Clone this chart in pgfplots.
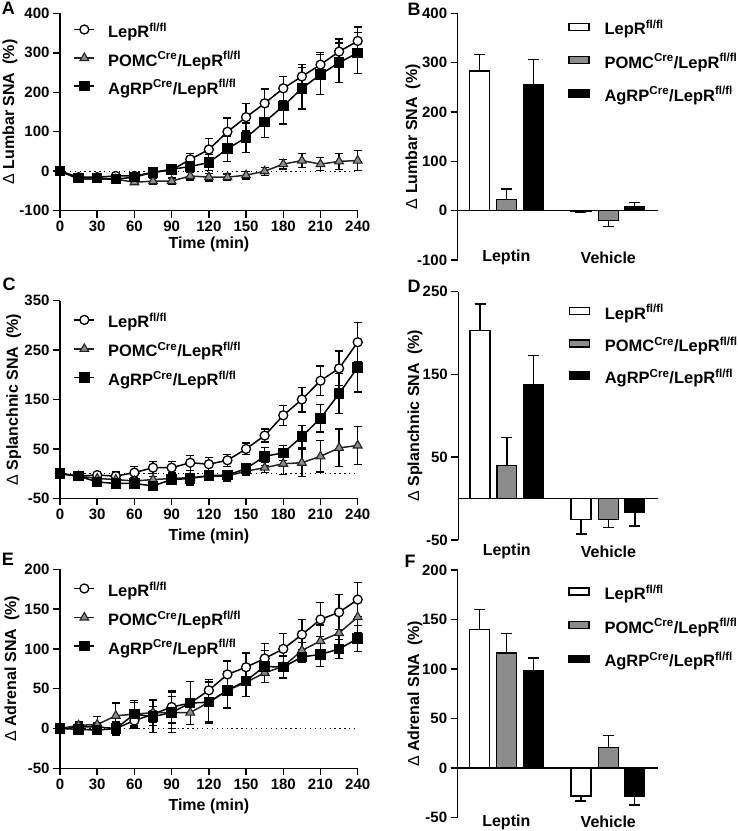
\documentclass[border=0pt]{standalone}
\usepackage{pgfplots}
\pgfplotsset{compat=1.18}
\usepackage{fontspec}
\setmainfont{Liberation Sans}
\definecolor{pomcgray}{RGB}{140,140,140}
\definecolor{pomcedge}{RGB}{35,35,35}
\newcommand{\fl}{\textsuperscript{fl/fl}}
\newcommand{\cre}{\textsuperscript{Cre}}
\newcommand{\dlt}{{\mdseries Δ}}
\tikzset{catlabel/.style={font=\fontsize{16}{18}\selectfont\bfseries, anchor=center}}
\pgfplotsset{
 base/.style={scale only axis,
   axis line style={line width=1.5pt,-},
   tick align=outside, major tick length=7pt,
   every tick/.style={black,line width=1.5pt},
   tick label style={font=\fontsize{15}{17}\selectfont\bfseries},
   /pgf/number format/assume math mode=true,
   clip=false,
   ylabel style={font=\fontsize{16}{18}\selectfont\bfseries, anchor=center},
   xlabel style={font=\fontsize{16}{18}\selectfont\bfseries, anchor=center},
   axis y line*=left,
   legend cell align=left},
 linepanel/.style={base, width=297.7pt, xmin=0, xmax=240, xtick={0,30,...,240},
   axis x line*=bottom, xlabel={Time (min)},
   legend style={draw=none, fill=none, anchor=north west,
     at={(axis description cs:0.045,1)}, yshift=-11.5pt,
     font=\fontsize{16.5}{18}\selectfont\bfseries, inner sep=0pt,
     column sep=13pt, row sep=11.5pt,
     nodes={inner sep=0pt, text height=12pt, text depth=4pt}},
   legend image code/.code={\draw[mark repeat=2,mark phase=2,##1] plot coordinates {(0pt,4pt)(10pt,4pt)(20pt,4pt)};}},
 barpanel/.style={base, width=200pt, xmin=0, xmax=200,
   axis x line*=middle, xtick=\empty,
   legend style={draw=none, fill=none, anchor=north west,
     at={(axis description cs:0.552,1)}, yshift=-9pt,
     font=\fontsize{16.5}{18}\selectfont\bfseries, inner sep=0pt,
     column sep=14.7pt, row sep=17pt,
     nodes={inner sep=0pt, text height=12pt, text depth=4pt}},
   legend image code/.code={\draw[##1] (0pt,0.5pt) rectangle (20pt,7.5pt);}},
 lerr/.style={error bars/.cd, y dir=both, y explicit,
   error bar style={line width=1.3pt, black},
   error mark options={rotate=90, line width=1.3pt, mark size=4pt, black}},
 berr/.style={error bars/.cd, y dir=both, y explicit,
   error bar style={line width=1.5pt, black},
   error mark options={rotate=90, line width=1.5pt, mark size=5.5pt, black}},
 lepr/.style={black, line width=1.5pt, mark=*, mark size=4.5pt,
   mark options={fill=white, draw=black, line width=1.3pt}, lerr},
 pomc/.style={pomcedge, line width=1.5pt, mark=triangle*, mark size=5pt,
   mark options={fill=pomcgray, draw=pomcedge, line width=1.1pt}, lerr},
 agrp/.style={black, line width=1.5pt, mark=square*, mark size=4.5pt,
   mark options={fill=black, draw=black}, lerr},
 zeroline/.style={black, line width=1.3pt, dash pattern=on 1.3pt off 3.6pt, forget plot},
 bwhite/.style={ybar, bar width=20, bar shift=0pt, draw=black, fill=white, line width=1.5pt, berr},
 bgray/.style={ybar, bar width=20, bar shift=0pt, draw=black, fill=pomcgray, line width=1.5pt, berr},
 bblack/.style={ybar, bar width=20, bar shift=0pt, draw=black, fill=black, line width=1.5pt, berr},
}
\begin{document}
\bfseries
\begin{tikzpicture}
\path[use as bounding box] (0pt,0pt) rectangle (738pt,-831pt);

% ---------------- A ----------------
\begin{axis}[linepanel, at={(60pt,-210.7pt)}, anchor=south west, height=197.4pt,
  ymin=-100, ymax=400, ytick={-100,0,...,400},
  ylabel={\dlt\ Lumbar SNA\enspace(\%)},
  ylabel style={at={(axis description cs:-0.168,0.5)}},
  xlabel style={at={(axis description cs:0.5,0)}, yshift=-34pt}]
\addplot[zeroline] coordinates {(0,0) (240,0)};
\addplot[lepr] coordinates {
(0,0) +- (0,0) (15,-15) +- (0,5) (30,-15) +- (0,6) (45,-12) +- (0,7) (60,-12) +- (0,8)
(75,-3) +- (0,10) (90,3) +- (0,12) (105,30) +- (0,15) (120,55) +- (0,28) (135,100) +- (0,35)
(150,137) +- (0,35) (165,172) +- (0,36) (180,210) +- (0,30) (195,240) +- (0,30)
(210,270) +- (0,30) (225,303) +- (0,32) (240,330) +- (0,35)};
\addlegendentry{LepR\fl}
\addplot[pomc] coordinates {
(0,0) +- (0,0) (15,-20) +- (0,5) (30,-20) +- (0,5) (45,-20) +- (0,6) (60,-28) +- (0,6)
(75,-25) +- (0,7) (90,-25) +- (0,8) (105,-12) +- (0,10) (120,-15) +- (0,10) (135,-15) +- (0,8)
(150,-10) +- (0,10) (165,0) +- (0,10) (180,18) +- (0,12) (195,27) +- (0,18)
(210,18) +- (0,17) (225,25) +- (0,20) (240,27) +- (0,25)};
\addlegendentry{POMC\cre/LepR\fl}
\addplot[agrp] coordinates {
(0,0) +- (0,0) (15,-17) +- (0,6) (30,-17) +- (0,6) (45,-20) +- (0,7) (60,-15) +- (0,8)
(75,-3) +- (0,10) (90,5) +- (0,12) (105,12) +- (0,15) (120,22) +- (0,20) (135,57) +- (0,32)
(150,85) +- (0,37) (165,125) +- (0,40) (180,165) +- (0,45) (195,210) +- (0,52)
(210,245) +- (0,50) (225,275) +- (0,50) (240,300) +- (0,52)};
\addlegendentry{AgRP\cre/LepR\fl}
\end{axis}

% ---------------- B ----------------
\begin{axis}[barpanel, at={(457.7pt,-260pt)}, anchor=south west, height=246.7pt,
  ymin=-100, ymax=400, ytick={-100,0,...,400},
  ylabel={\dlt\ Lumbar SNA\enspace(\%)},
  ylabel style={at={(axis description cs:-0.224,0.5)}}]
\addplot[bwhite] coordinates {(21.8,283) += (0,34) -= (0,0.01) (123.1,-2) += (0,0.01) -= (0,1)};
\addlegendentry{LepR\fl}
\addplot[bgray] coordinates {(48.6,23) += (0,21) -= (0,0.01) (150.6,-20) += (0,0.01) -= (0,12)};
\addlegendentry{POMC\cre/LepR\fl}
\addplot[bblack] coordinates {(75.6,256) += (0,50) -= (0,0.01) (177,7) += (0,10) -= (0,0.01)};
\addlegendentry{AgRP\cre/LepR\fl}
\node[catlabel] at (axis cs:48.6,0) [yshift=-47pt] {Leptin};
\node[catlabel] at (axis cs:150.6,0) [yshift=-47pt] {Vehicle};
\end{axis}

% ---------------- C ----------------
\begin{axis}[linepanel, at={(60pt,-498.3pt)}, anchor=south west, height=197.6pt,
  ymin=-50, ymax=350, ytick={-50,50,...,350},
  ylabel={\dlt\ Splanchnic SNA\enspace(\%)},
  ylabel style={at={(axis description cs:-0.155,0.5)}},
  xlabel style={at={(axis description cs:0.5,0)}, yshift=-38pt},
  legend style={yshift=-3pt, row sep=12pt}]
\addplot[zeroline] coordinates {(0,0) (240,0)};
\addplot[lepr] coordinates {
(0,0) +- (0,0) (15,-5) +- (0,3) (30,-3) +- (0,5) (45,-5) +- (0,8) (60,2) +- (0,12)
(75,12) +- (0,12) (90,12) +- (0,13) (105,22) +- (0,15) (120,19) +- (0,13) (135,27) +- (0,12)
(150,50) +- (0,12) (165,77) +- (0,13) (180,118) +- (0,20) (195,150) +- (0,25)
(210,188) +- (0,30) (225,213) +- (0,35) (240,266) +- (0,40)};
\addlegendentry{LepR\fl}
\addplot[pomc] coordinates {
(0,0) +- (0,0) (15,-5) +- (0,3) (30,-10) +- (0,5) (45,-12) +- (0,5) (60,-15) +- (0,6)
(75,-12) +- (0,6) (90,-10) +- (0,12) (105,-8) +- (0,15) (120,-5) +- (0,8) (135,-5) +- (0,10)
(150,5) +- (0,8) (165,12) +- (0,10) (180,20) +- (0,22) (195,22) +- (0,28)
(210,35) +- (0,32) (225,52) +- (0,38) (240,57) +- (0,38)};
\addlegendentry{POMC\cre/LepR\fl}
\addplot[agrp] coordinates {
(0,0) +- (0,0) (15,-5) +- (0,3) (30,-17) +- (0,5) (45,-20) +- (0,7) (60,-20) +- (0,7)
(75,-25) +- (0,6) (90,-12) +- (0,10) (105,-10) +- (0,10) (120,-4) +- (0,8) (135,-3) +- (0,8)
(150,10) +- (0,10) (165,35) +- (0,18) (180,42) +- (0,15) (195,75) +- (0,23)
(210,112) +- (0,28) (225,162) +- (0,40) (240,215) +- (0,50)};
\addlegendentry{AgRP\cre/LepR\fl}
\end{axis}

% ---------------- D ----------------
\begin{axis}[barpanel, at={(458.3pt,-540pt)}, anchor=south west, height=248.3pt, width=199.4pt,
  ymin=-50, ymax=250, ytick={-50,50,150,250},
  ylabel={\dlt\ Splanchnic SNA\enspace(\%)},
  ylabel style={at={(axis description cs:-0.217,0.5)}},
  legend style={yshift=-6pt, row sep=16pt}]
\addplot[bwhite] coordinates {(21.8,203) += (0,32) -= (0,0.01) (123.1,-25) += (0,0.01) -= (0,18)};
\addlegendentry{LepR\fl}
\addplot[bgray] coordinates {(48.6,40) += (0,34) -= (0,0.01) (150.6,-25) += (0,0.01) -= (0,10)};
\addlegendentry{POMC\cre/LepR\fl}
\addplot[bblack] coordinates {(75.6,138) += (0,35) -= (0,0.01) (177,-16) += (0,0.01) -= (0,17)};
\addlegendentry{AgRP\cre/LepR\fl}
\node[catlabel] at (axis cs:48.6,0) [yshift=-53pt] {Leptin};
\node[catlabel] at (axis cs:150.6,0) [yshift=-53pt] {Vehicle};
\end{axis}

% ---------------- E ----------------
\begin{axis}[linepanel, at={(60pt,-768.3pt)}, anchor=south west, height=199pt,
  ymin=-50, ymax=200, ytick={-50,0,...,200},
  ylabel={\dlt\ Adrenal SNA\enspace(\%)},
  ylabel style={at={(axis description cs:-0.161,0.5)}},
  xlabel style={at={(axis description cs:0.5,0)}, yshift=-38pt},
  legend style={yshift=-3pt, row sep=12pt}]
\addplot[zeroline] coordinates {(0,0) (240,0)};
\addplot[lepr] coordinates {
(0,0) +- (0,0) (15,2) +- (0,4) (30,2) +- (0,5) (45,0) +- (0,8) (60,10) +- (0,10)
(75,18) +- (0,10) (90,27) +- (0,20) (105,32) +- (0,27) (120,48) +- (0,14) (135,68) +- (0,17)
(150,77) +- (0,18) (165,88) +- (0,19) (180,100) +- (0,19) (195,118) +- (0,19)
(210,137) +- (0,21) (225,146) +- (0,22) (240,162) +- (0,21)};
\addlegendentry{LepR\fl}
\addplot[pomc] coordinates {
(0,0) +- (0,0) (15,4) +- (0,4) (30,5) +- (0,10) (45,16) +- (0,16) (60,18) +- (0,17)
(75,20) +- (0,16) (90,20) +- (0,20) (105,20) +- (0,15) (120,33) +- (0,25) (135,48) +- (0,22)
(150,58) +- (0,18) (165,70) +- (0,12) (180,78) +- (0,14) (195,98) +- (0,10)
(210,110) +- (0,20) (225,120) +- (0,24) (240,140) +- (0,20)};
\addlegendentry{POMC\cre/LepR\fl}
\addplot[agrp] coordinates {
(0,0) +- (0,0) (15,-1) +- (0,3) (30,-2) +- (0,4) (45,0) +- (0,8) (60,18) +- (0,15)
(75,15) +- (0,20) (90,20) +- (0,25) (105,32) +- (0,27) (120,33) +- (0,26) (135,48) +- (0,23)
(150,60) +- (0,20) (165,78) +- (0,20) (180,77) +- (0,14) (195,90) +- (0,7)
(210,93) +- (0,15) (225,100) +- (0,12) (240,113) +- (0,16)};
\addlegendentry{AgRP\cre/LepR\fl}
\end{axis}

% ---------------- F ----------------
\begin{axis}[barpanel, at={(457.7pt,-817.7pt)}, anchor=south west, height=247.7pt,
  ymin=-50, ymax=200, ytick={-50,0,...,200},
  ylabel={\dlt\ Adrenal SNA\enspace(\%)},
  ylabel style={at={(axis description cs:-0.214,0.5)}},
  legend style={yshift=-8pt, row sep=17.5pt}]
\addplot[bwhite] coordinates {(21.8,140) += (0,20) -= (0,0.01) (123.1,-28) += (0,0.01) -= (0,5)};
\addlegendentry{LepR\fl}
\addplot[bgray] coordinates {(48.6,116) += (0,20) -= (0,0.01) (150.6,21) += (0,12) -= (0,0.01)};
\addlegendentry{POMC\cre/LepR\fl}
\addplot[bblack] coordinates {(75.6,98) += (0,13) -= (0,0.01) (177,-28) += (0,0.01) -= (0,9)};
\addlegendentry{AgRP\cre/LepR\fl}
\node[catlabel] at (axis cs:48.6,0) [yshift=-53.7pt] {Leptin};
\node[catlabel] at (axis cs:150.6,0) [yshift=-53.7pt] {Vehicle};
\end{axis}

% panel letters
\begin{scope}[every node/.style={font=\fontsize{18}{20}\selectfont\bfseries, anchor=center}]
\node at (8.3pt,-8.3pt) {A};
\node at (414pt,-9pt) {B};
\node at (9pt,-284pt) {C};
\node at (414pt,-286.5pt) {D};
\node at (8pt,-559pt) {E};
\node at (410pt,-561pt) {F};
\end{scope}
\end{tikzpicture}
\end{document}
